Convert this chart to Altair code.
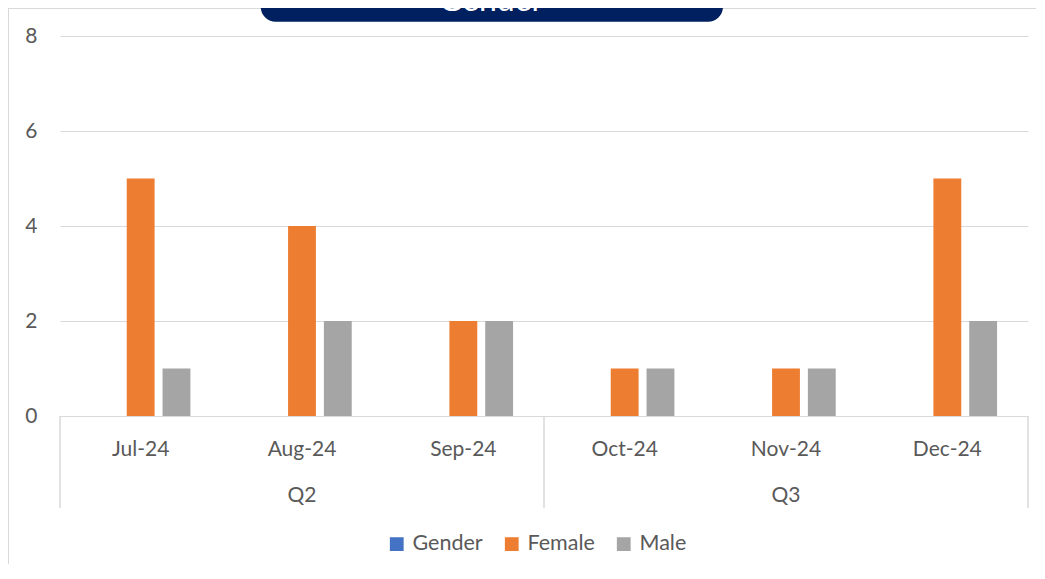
import altair as alt
import pandas as pd

# ---- data ----
months = ["Jul-24", "Aug-24", "Sep-24", "Oct-24", "Nov-24", "Dec-24"]
quarter_labels = ["Q2", "Q3"]
quarter_mid_month = ["Aug-24", "Nov-24"]
quarter_start_month = ["Jul-24", "Oct-24"]
last_month = ["Dec-24"]
series = ["Gender", "Female", "Male"]
gender_vals = [0, 0, 0, 0, 0, 0]
female_vals = [5, 4, 2, 1, 1, 5]
male_vals = [1, 2, 2, 1, 1, 2]
series_colors = ["#4472C4", "#ED7D31", "#A5A5A5"]
y_ticks = [0, 2, 4, 6, 8]
chart_title = "Gender"

rows = []
for s, vals in zip(series, [gender_vals, female_vals, male_vals]):
    for m, v in zip(months, vals):
        rows.append({"month": m, "series": s, "value": v})
bars_df = pd.DataFrame(rows)
quarters_df = pd.DataFrame({"month": quarter_mid_month, "quarter": quarter_labels})
starts_df = pd.DataFrame({"month": quarter_start_month})
end_df = pd.DataFrame({"month": last_month})
one_df = pd.DataFrame({"t": [chart_title]})

FONT = "Lato"
TXT = "#595959"
GRID = "#D9D9D9"
W, H = 968, 380

x_scale = alt.Scale(domain=months, paddingInner=0, paddingOuter=0)
x_axis = alt.Axis(title=None, labelAngle=0, domainColor=GRID, ticks=False, tickSize=0,
                  labelPadding=39, labelBaseline="alphabetic", labelFont=FONT,
                  labelFontSize=21, labelColor=TXT, grid=False)
y_scale = alt.Scale(domain=[0, 8], nice=False)
y_axis = alt.Axis(values=y_ticks, title=None, domain=False, ticks=False, tickSize=0,
                  labelPadding=23, gridColor=GRID, gridWidth=1, labelFont=FONT,
                  labelFontSize=21, labelColor=TXT)


def X(**kw):
    return alt.X("month:N", scale=x_scale, axis=x_axis, sort=months, **kw)


# chart border (left + top)
border_left = alt.Chart(one_df).mark_rule(color=GRID, strokeWidth=1).encode(
    x=alt.value(-51.5), y=alt.value(-28), y2=alt.value(H + 150))
border_top = alt.Chart(one_df).mark_rule(color=GRID, strokeWidth=1).encode(
    x=alt.value(-52), x2=alt.value(W + 8), y=alt.value(-27.5))

bars = alt.Chart(bars_df).mark_bar().encode(
    x=X(),
    xOffset=alt.XOffset("series:N", sort=series,
                        scale=alt.Scale(domain=series, paddingInner=0.2222, paddingOuter=0.864)),
    y=alt.Y("value:Q", scale=y_scale, axis=y_axis),
    color=alt.Color("series:N", sort=series,
                    scale=alt.Scale(domain=series, range=series_colors),
                    legend=alt.Legend(orient="none", legendX=326, legendY=497,
                                      direction="horizontal", title=None,
                                      symbolType="square", symbolSize=190,
                                      symbolStrokeWidth=0, labelFont=FONT,
                                      labelFontSize=21.5, labelColor=TXT,
                                      labelOffset=5, columnPadding=18, padding=0)),
)

sep_start = alt.Chart(starts_df).mark_rule(color=GRID, strokeWidth=1.5).encode(
    x=X(bandPosition=0), y=alt.value(H), y2=alt.value(472))
sep_end = alt.Chart(end_df).mark_rule(color=GRID, strokeWidth=1.5).encode(
    x=X(bandPosition=1), y=alt.value(H), y2=alt.value(472))

quarters = alt.Chart(quarters_df).mark_text(
    font=FONT, fontSize=21, color=TXT, baseline="alphabetic", align="center"
).encode(x=X(), y=alt.value(465.5), text="quarter:N")

title_box = alt.Chart(one_df).mark_rect(
    color="#002060", cornerRadiusBottomLeft=15, cornerRadiusBottomRight=15
).encode(x=alt.value(200.7), x2=alt.value(663), y=alt.value(-45), y2=alt.value(-14.3))
title_text = alt.Chart(one_df).mark_text(
    font=FONT, fontSize=32, color="white", baseline="alphabetic", align="center"
).encode(x=alt.value(431), y=alt.value(-25), text="t:N")

chart = alt.layer(
    border_left, border_top, bars, sep_start, sep_end, quarters, title_box, title_text
).properties(
    width=W, height=H,
    autosize=alt.AutoSizeParams(type="none"),
    padding={"left": 52, "top": 28, "right": 8, "bottom": 148},
).configure(background="white", view=alt.ViewConfig(stroke=None))

chart.save("out.html", embed_options={"renderer": "svg", "actions": False})
